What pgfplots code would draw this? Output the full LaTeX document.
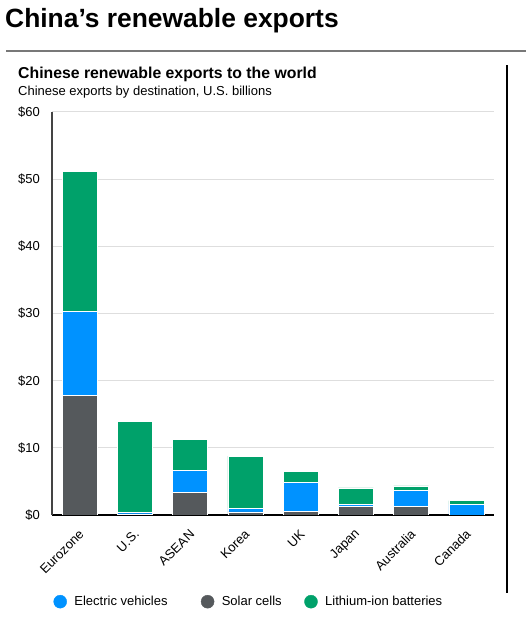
\documentclass[border=0pt]{standalone}
\usepackage{pgfplots}
\pgfplotsset{compat=1.18}
\usepackage{fontspec}
\setmainfont{Liberation Sans}
\definecolor{evblue}{RGB}{0,146,255}
\definecolor{solargrey}{RGB}{85,89,92}
\definecolor{ligreen}{RGB}{0,161,106}
\definecolor{gridgrey}{RGB}{222,222,222}
\definecolor{rulegrey}{RGB}{120,120,120}
\definecolor{axisgrey}{RGB}{68,68,68}
\begin{document}
\begin{tikzpicture}
\path[use as bounding box] (0,0) rectangle (526bp,621bp);
\node[anchor=base west, inner sep=0pt, font=\fontsize{26.4bp}{30bp}\selectfont\bfseries] at (5bp,593bp) {China’s renewable exports};
\draw[line width=2bp, rulegrey] (6bp,570bp) -- (526bp,570bp);
\node[anchor=base west, inner sep=0pt, font=\fontsize{15.8bp}{18bp}\selectfont\bfseries] at (18bp,542.7bp) {Chinese renewable exports to the world};
\node[anchor=base west, inner sep=0pt, font=\fontsize{13bp}{15bp}\selectfont] at (18bp,525.7bp) {Chinese exports by destination, U.S.\ billions};
\draw[line width=1.2bp, black] (507bp,28bp) -- (507bp,556bp);
\begin{axis}[
  at={(52bp,106bp)}, anchor=south west,
  scale only axis, width=442bp, height=403bp,
  ybar stacked, bar width=35bp,
  xmin=-0.5, xmax=7.5, ymin=0, ymax=60,
  ytick={0,10,20,30,40,50,60},
  xtick={0,1,2,3,4,5,6,7},
  xticklabels={Eurozone,U.S.,ASEAN,Korea,UK,Japan,Australia,Canada},
  axis x line*=bottom, axis y line*=left,
  x axis line style={black, line width=1.3bp},
  y axis line style={axisgrey, line width=1.3bp},
  ymajorgrids, grid style={gridgrey, line width=1bp},
  major tick length=0pt,
  yticklabel={\$\pgfmathprintnumber[assume math mode=true]{\tick}},
  yticklabel style={font=\fontsize{13bp}{15bp}\selectfont, anchor=east, inner sep=0pt, xshift=-12bp},
  xticklabel style={font=\fontsize{13bp}{15bp}\selectfont, inner sep=0pt, xshift=2bp, yshift=-17bp, rotate=45, anchor=east},
  legend style={at={(0.0034,-0.2151)}, anchor=west, draw=none, fill=none, inner sep=0pt, outer sep=0pt,
    font=\fontsize{13bp}{15bp}\selectfont, legend columns=3,
    nodes={inner sep=0pt},
    /tikz/every odd column/.append style={column sep=7.5bp}},
  legend cell align=left,
]
\addlegendimage{legend image code/.code={\fill[evblue] (6.5bp,0bp) circle (6.5bp);}}
\addlegendentry{\makebox[126.5bp][l]{Electric vehicles}}
\addlegendimage{legend image code/.code={\fill[solargrey] (6.5bp,0bp) circle (6.5bp);}}
\addlegendentry{\makebox[82.5bp][l]{Solar cells}}
\addlegendimage{legend image code/.code={\fill[ligreen] (6.5bp,0bp) circle (6.5bp);}}
\addlegendentry{Lithium-ion batteries}
% Solar cells
\addplot[fill=solargrey, draw=white, line width=0.6bp] coordinates {
 (0,17.78) (1,0.15) (2,3.42) (3,0.45) (4,0.50) (5,1.25) (6,1.25) (7,0.0)};
% Electric vehicles
\addplot[fill=evblue, draw=white, line width=0.6bp] coordinates {
 (0,12.55) (1,0.25) (2,3.23) (3,0.55) (4,4.32) (5,0.30) (6,2.38) (7,1.55)};
% Lithium-ion batteries
\addplot[fill=ligreen, draw=white, line width=0.6bp] coordinates {
 (0,20.77) (1,13.50) (2,4.57) (3,7.78) (4,1.68) (5,2.47) (6,0.69) (7,0.59)};
\end{axis}
\end{tikzpicture}
\end{document}
